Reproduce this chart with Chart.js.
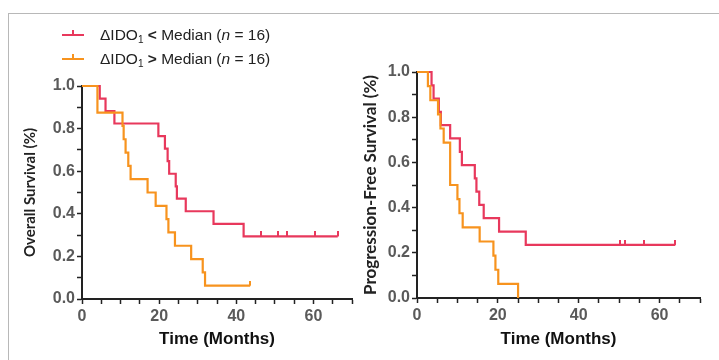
<!DOCTYPE html>
<html>
<head>
<meta charset="utf-8">
<script src="https://cdn.jsdelivr.net/npm/chart.js@4.4.1/dist/chart.umd.min.js"></script>
<style>
body { margin: 0; background: #fff; }
#border { position: absolute; left: 8px; top: 13px; width: 730px; height: 360px;
  border-left: 1.5px solid #b8b8b8; border-top: 1.5px solid #b8b8b8; }
#osChart { position: absolute; left: 0; top: 0; }
#pfsChart { position: absolute; left: 355px; top: 0; }
#legend { position: absolute; left: 62px; top: 23px; font: 15.5px "Liberation Sans", Arial, sans-serif; color: #222; }
.row { position: relative; height: 24px; line-height: 24px; padding-left: 38px; white-space: nowrap; }
.mark { position: absolute; left: 0; top: 11px; width: 22px; height: 2px; }
.mark::after { content: ''; position: absolute; left: 10px; top: -4px; width: 2px; height: 4px; background: inherit; }
sub { font-size: 10px; vertical-align: -3px; line-height: 0; }
</style>
</head>
<body>
<div id="border"></div>
<canvas id="osChart" width="360" height="360"></canvas>
<canvas id="pfsChart" width="364" height="360"></canvas>
<div id="legend">
  <div class="row"><span class="mark" style="background:#e8385c"></span>&Delta;IDO<sub>1</sub> <b>&lt;</b> Median (<i>n</i> = 16)</div>
  <div class="row"><span class="mark" style="background:#f7931e"></span>&Delta;IDO<sub>1</sub> <b>&gt;</b> Median (<i>n</i> = 16)</div>
</div>
<script>
var colorLow = '#e8385c';
var colorHigh = '#f7931e';

// overall survival (months, survival fraction)
var osLowTime = [0, 4.6, 6.1, 8.4, 19.8, 21.5, 22.2, 22.6, 24.3, 24.6, 26.9, 34.1, 41.9, 66.3];
var osLowSurv = [1, 0.941, 0.882, 0.824, 0.765, 0.706, 0.647, 0.588, 0.529, 0.471, 0.412, 0.353, 0.294, 0.294];
var osLowCensor = [46.4, 50.9, 53.2, 60.3, 66.3];

var osHighTime = [0, 4.0, 10.5, 10.8, 11.3, 12.0, 12.6, 17.0, 19.1, 21.9, 22.4, 24.1, 28.3, 31.3, 31.9, 43.6];
var osHighSurv = [1, 0.875, 0.8125, 0.75, 0.6875, 0.625, 0.5625, 0.5, 0.4375, 0.375, 0.3125, 0.25, 0.1875, 0.125, 0.0625, 0.0625];
var osHighCensor = [43.6];

// progression-free survival, right panel
var pfsLowTime = [0, 3.6, 4.1, 5.4, 5.9, 8.2, 10.6, 11.1, 14.3, 14.7, 15.4, 16.5, 20.3, 26.9, 63.9];
var pfsLowSurv = [1, 0.941, 0.882, 0.824, 0.765, 0.706, 0.647, 0.588, 0.529, 0.471, 0.412, 0.353, 0.294, 0.235, 0.235];
var pfsLowCensor = [50.3, 51.4, 56.1, 63.9];

var pfsHighTime = [0, 2.7, 3.3, 5.2, 5.8, 6.6, 8.2, 10.0, 10.5, 11.3, 15.5, 18.9, 19.4, 20.1, 25.0];
var pfsHighSurv = [1, 0.9375, 0.875, 0.8125, 0.75, 0.6875, 0.5, 0.4375, 0.375, 0.3125, 0.25, 0.1875, 0.125, 0.0625, 0];
var pfsHighCensor = [];

var xLabelled = [0, 20, 40, 60];
var yLabelled = [0, 0.2, 0.4, 0.6, 0.8, 1.0];

function steps(times, surv) {
    return times.map(function (t, i) { return { x: t, y: surv[i] }; });
}
function survAt(times, surv, t) {
    var s = surv[0];
    for (var i = 0; i < times.length; i++) if (times[i] <= t) s = surv[i];
    return s;
}
function censorPts(times, surv, cens) {
    return cens.map(function (t) { return { x: t, y: survAt(times, surv, t) }; });
}
// little upward tick used as the censor mark
function tickMark(color) {
    var c = document.createElement('canvas');
    c.width = 2; c.height = 10;
    var g = c.getContext('2d');
    g.fillStyle = color;
    g.fillRect(0, 0, 2, 5);
    return c;
}

var tickFont = { family: '"Liberation Sans", Arial, sans-serif', weight: 'bold', size: 16 };

function makeChart(id, low, high, yTitle, geo) {
    var ctx = document.getElementById(id).getContext('2d');
    return new Chart(ctx, {
        type: 'line',
        data: {
            datasets: [
                { data: steps(high.t, high.s), borderColor: colorHigh, borderWidth: 2.2, stepped: true, pointRadius: 0, fill: false, clip: false },
                { data: steps(low.t, low.s), borderColor: colorLow, borderWidth: 2.2, stepped: true, pointRadius: 0, fill: false, clip: false },
                { data: censorPts(high.t, high.s, high.c), showLine: false, pointStyle: tickMark(colorHigh), pointRadius: 5, clip: false },
                { data: censorPts(low.t, low.s, low.c), showLine: false, pointStyle: tickMark(colorLow), pointRadius: 5, clip: false }
            ]
        },
        options: {
            responsive: false,
            animation: false,
            events: [],
            layout: { padding: geo.padding },
            plugins: { legend: { display: false }, tooltip: { enabled: false } },
            scales: {
                x: {
                    type: 'linear', min: 0, max: 70,
                    afterFit: function (scale) { scale.height = geo.xHeight; },
                    ticks: {
                        stepSize: 5, autoSkip: false, maxRotation: 0, padding: 3,
                        color: '#5a5a5a', font: tickFont,
                        callback: function (v) { return xLabelled.indexOf(v) >= 0 ? String(v) : ''; }
                    },
                    grid: { drawOnChartArea: false, tickLength: 5, tickWidth: 1.5, tickColor: '#222' },
                    border: { color: '#222', width: 2 },
                    title: {
                        display: true, text: 'Time (Months)', color: '#111',
                        font: { family: '"Liberation Sans", Arial, sans-serif', weight: 'bold', size: 17 },
                        padding: { top: 0, bottom: 10 }
                    }
                },
                y: {
                    min: 0, max: 1,
                    afterFit: function (scale) { scale.width = geo.yWidth; },
                    ticks: {
                        stepSize: 0.1, autoSkip: false, padding: 2,
                        color: '#5a5a5a', font: tickFont,
                        callback: function (v) {
                            var r = Math.round(v * 10) / 10;
                            return yLabelled.indexOf(r) >= 0 ? r.toFixed(1) : '';
                        }
                    },
                    grid: { drawOnChartArea: false, tickLength: 5, tickWidth: 1.5, tickColor: '#222' },
                    border: { color: '#222', width: 2 },
                    title: {
                        display: true, text: yTitle, color: '#222',
                        font: { family: 'Lato, "Open Sans", sans-serif', weight: 'bold', size: geo.titleSize },
                        padding: { top: geo.titleGap, bottom: 0 }
                    }
                }
            }
        }
    });
}

makeChart('osChart',
    { t: osLowTime, s: osLowSurv, c: osLowCensor },
    { t: osHighTime, s: osHighSurv, c: osHighCensor },
    'Overall Survival (%)',
    { padding: { top: 86, right: 8, left: 0, bottom: 0 }, xHeight: 61, yWidth: 82, titleGap: 21, titleSize: 15 });

makeChart('pfsChart',
    { t: pfsLowTime, s: pfsLowSurv, c: pfsLowCensor },
    { t: pfsHighTime, s: pfsHighSurv, c: pfsHighCensor },
    'Progression-Free Survival (%)',
    { padding: { top: 72, right: 19, left: 0, bottom: 0 }, xHeight: 62, yWidth: 62, titleGap: 5, titleSize: 17 });
</script>
</body>
</html>
